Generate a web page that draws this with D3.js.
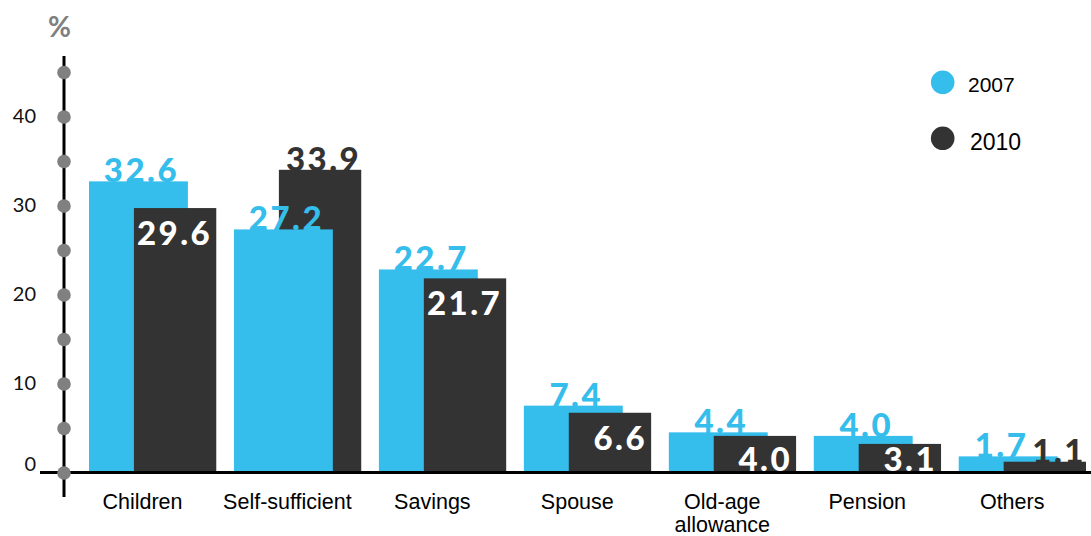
<!DOCTYPE html>
<html>
<head>
<meta charset="utf-8">
<script src="https://cdn.jsdelivr.net/npm/d3@7"></script>
<style>
  html, body { margin: 0; padding: 0; background: #ffffff; }
  svg { display: block; }
</style>
</head>
<body>
<svg id="chart" width="1091" height="536"></svg>
<script>
// ---- data ----
const categories = ["Children", "Self-sufficient", "Savings", "Spouse", "Old-age allowance", "Pension", "Others"];
const values2007 = [32.6, 27.2, 22.7, 7.4, 4.4, 4.0, 1.7];
const values2010 = [29.6, 33.9, 21.7, 6.6, 4.0, 3.1, 1.1];
const seriesNames = ["2007", "2010"];
const yTickLabels = [0, 10, 20, 30, 40];
const yDotValues = [0, 5, 10, 15, 20, 25, 30, 35, 40, 45];
const yUnit = "%";

// ---- styles ----
const colors = ["#35bdec", "#333333"];
const W = 1091, H = 536;
const svg = d3.select("#chart");

const x = d3.scaleBand().domain(categories).range([89, 1086]).paddingInner(0.122).paddingOuter(0);
const bw = x.bandwidth();
const y = d3.scaleLinear().domain([0, 45]).range([471.5, 71]);

const blueX = c => x(c);
const blueW = bw * 0.777;
const darkX = c => x(c) + bw * 0.353;
const darkW = bw * 0.647;

const rows = categories.map((c, i) => ({ c, v07: values2007[i], v10: values2010[i] }));

// ---- bars (taller drawn first, shorter in front) ----
const gBars = svg.append("g");
rows.forEach(r => {
  const bars = [
    { x: blueX(r.c), w: blueW, v: r.v07, col: colors[0] },
    { x: darkX(r.c), w: darkW, v: r.v10, col: colors[1] }
  ].sort((a, b) => b.v - a.v);
  bars.forEach(b => {
    gBars.append("rect")
      .attr("x", b.x).attr("y", y(b.v))
      .attr("width", b.w).attr("height", y(0) - y(b.v))
      .attr("fill", b.col);
  });
});

// ---- value labels ----
const fmt = d3.format(".1f");
const gLab = svg.append("g")
  .style("font-family", "Lato, 'Open Sans', sans-serif")
  .style("font-weight", 900)
  .style("font-size", "33px")
  .style("letter-spacing", "2.5px");

rows.forEach(r => {
  // 2010 label
  const darkH = y(0) - y(r.v10);
  const outside = r.v10 > r.v07 || darkH < 20;
  const dl = gLab.append("text")
    .attr("text-anchor", "end")
    .attr("x", darkX(r.c) + darkW - (outside ? 0 : 4))
    .attr("y", outside ? y(r.v10) + 1 : Math.min(y(r.v10) + 37, y(0) - 1))
    .attr("fill", outside ? colors[1] : "#ffffff")
    .text(fmt(r.v10));
  // 2007 label
  const bl = gLab.append("text")
    .attr("text-anchor", "middle")
    .attr("x", blueX(r.c) + blueW / 2 + 3)
    .attr("y", y(r.v07) + 1)
    .attr("fill", colors[0])
    .text(fmt(r.v07));
  if (outside) {
    const a = bl.node().getBBox(), b = dl.node().getBBox();
    const vOverlap = a.y < b.y + b.height && b.y < a.y + a.height;
    if (vOverlap && a.x + a.width > b.x - 4) {
      const shift = a.x + a.width - (b.x - 4);
      bl.attr("x", +bl.attr("x") - shift);
    }
  }
});

// ---- baseline ----
svg.append("line")
  .attr("x1", 40).attr("x2", W)
  .attr("y1", y(0) + 1).attr("y2", y(0) + 1)
  .attr("stroke", "#000").attr("stroke-width", 3);

// ---- y axis ----
const axisX = 64;
svg.append("line")
  .attr("x1", axisX).attr("x2", axisX)
  .attr("y1", 56).attr("y2", 497)
  .attr("stroke", "#000").attr("stroke-width", 3);

svg.append("g").selectAll("circle").data(yDotValues).join("circle")
  .attr("cx", axisX).attr("cy", d => y(d) + 1.5)
  .attr("r", 6.8).attr("fill", "#808080");

const yAxis = svg.append("g")
  .attr("transform", "translate(36,0)")
  .call(d3.axisLeft(y).tickValues(yTickLabels).tickSize(0).tickPadding(0).tickFormat(d3.format("d")));
yAxis.select(".domain").remove();
yAxis.selectAll("text")
  .attr("dy", d => d === 0 ? "-0.05em" : "0.36em")
  .style("font-family", "Lato, 'Open Sans', sans-serif")
  .style("font-size", "20px")
  .style("font-weight", 400)
  .attr("fill", "#111");

svg.append("text")
  .attr("x", 59.5).attr("y", 37)
  .attr("text-anchor", "middle")
  .style("font-family", "Lato, sans-serif")
  .style("font-size", "28px")
  .style("font-weight", 700)
  .attr("fill", "#808080")
  .text(yUnit);

// ---- x axis labels ----
const xAxis = svg.append("g")
  .attr("transform", `translate(0,${y(0)})`)
  .call(d3.axisBottom(x).tickSize(0).tickPadding(0));
xAxis.select(".domain").remove();
xAxis.selectAll(".tick").attr("transform", d => `translate(${x(d) + bw * 0.42},0)`);
xAxis.selectAll(".tick text").each(function(d) {
  const t = d3.select(this);
  t.text(null).attr("y", 0).attr("dy", null)
    .style("font-family", "'Liberation Sans', Arial, sans-serif")
    .style("font-size", "21.5px")
    .attr("fill", "#000");
  d.split(" ").forEach((w, i) => {
    t.append("tspan").attr("x", 0).attr("y", 37 + i * 23).text(w);
  });
});

// ---- legend ----
const lg = svg.append("g");
seriesNames.forEach((s, i) => {
  const cy = 82.3 + i * 56;
  lg.append("circle").attr("cx", 942.7).attr("cy", cy).attr("r", 11.8).attr("fill", colors[i]);
  lg.append("text")
    .attr("x", 968 + i * 2).attr("y", cy + 10 + i * 2)
    .style("font-family", "'Liberation Sans', Arial, sans-serif")
    .style("font-size", (21 + i * 2) + "px")
    .attr("fill", "#000")
    .text(s);
});
</script>
</body>
</html>
